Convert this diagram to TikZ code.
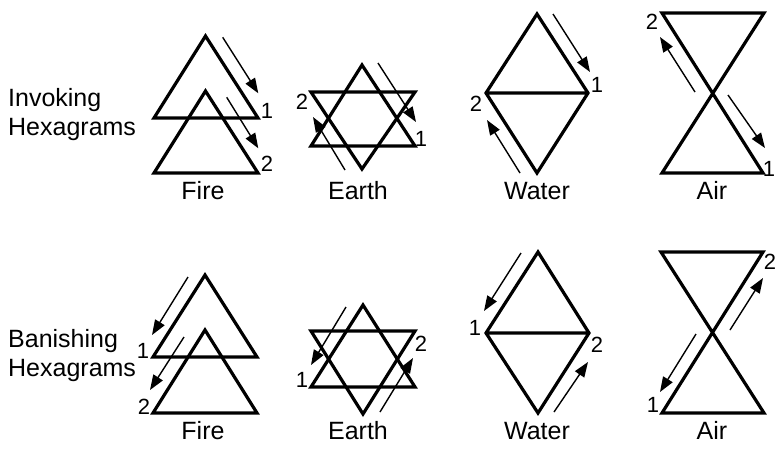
\documentclass[tikz,border=0pt]{standalone}
\usepackage{fontspec}
\setmainfont{Liberation Sans}
\usetikzlibrary{arrows.meta}
\begin{document}
\begin{tikzpicture}[x=1pt,y=-1pt,fig/.style={line width=3.2pt},dir/.style={line width=1.4pt,-{Triangle[length=15pt,width=11pt]}},num/.style={font=\fontsize{22}{22}\selectfont,inner sep=0pt},lbl/.style={font=\fontsize{25}{30}\selectfont,inner sep=0pt}]
\useasboundingbox (0,0) rectangle (777,451);
\node[lbl,anchor=base west] (inv) at (8,106) {Invoking};
\node[lbl,anchor=base west] (invh) at (8,135) {Hexagrams};
\node[lbl,anchor=base west] (ban) at (8,347) {Banishing};
\node[lbl,anchor=base west] (banh) at (8,376) {Hexagrams};
\foreach \nm/\x in {Fire/203,Earth/358,Water/537,Air/712}{
  \node[lbl,anchor=base] (top\nm) at (\x,199) {\nm};
  \node[lbl,anchor=base] (bot\nm) at (\x,439) {\nm};}
\draw[fig] (205.5,36)--(154,118)--(258,118)--cycle;
\draw[fig] (205.5,91)--(154,173)--(258,173)--cycle;
\draw[dir] (222.7,37.3)--(258.3,93.3);
\draw[dir] (226.7,97.3)--(258.3,148.3);
\node[num] (f1) at (267,111) {1};
\node[num] (f2) at (267,164) {2};
\draw[fig] (362,65)--(311,146)--(415,146)--cycle;
\draw[fig] (311,92)--(415,92)--(362,169)--cycle;
\draw[dir] (378,63)--(416,122);
\draw[dir] (345,170)--(313,117);
\node[num] (e2) at (302,102) {2};
\node[num] (e1) at (421,139) {1};
\draw[fig] (537,14)--(588,93)--(537,173)--(486,93)--cycle (486,93)--(588,93);
\draw[dir] (553,14)--(590,72);
\draw[dir] (520,173)--(487,120);
\node[num] (w1) at (597,85) {1};
\node[num] (w2) at (476,104) {2};
\draw[fig] (662,13)--(764,13)--(662,173)--(763,173)--cycle;
\draw[dir] (695,92)--(660,37);
\draw[dir] (728,95)--(765,148);
\node[num] (a2) at (652,22) {2};
\node[num] (a1) at (769,169) {1};
\draw[fig] (205,275)--(153,357)--(257,357)--cycle;
\draw[fig] (205,330)--(153,413)--(257,413)--cycle;
\draw[dir] (188,277)--(152,335);
\draw[dir] (184,337)--(150,390);
\node[num] (bf1) at (143,351) {1};
\node[num] (bf2) at (144,407) {2};
\draw[fig] (363,305)--(311,387)--(415,387)--cycle;
\draw[fig] (311,331)--(415,331)--(363,414)--cycle;
\draw[dir] (346,307)--(311,365);
\draw[dir] (380,412)--(413,358);
\node[num] (be1) at (302,380) {1};
\node[num] (be2) at (421,344) {2};
\draw[fig] (538,252)--(589,333)--(538,413)--(486,333)--cycle (486,333)--(589,333);
\draw[dir] (521,253)--(484,311);
\draw[dir] (554,412)--(588,362);
\node[num] (bw1) at (475,328) {1};
\node[num] (bw2) at (597,345) {2};
\draw[fig] (661,252)--(763,252)--(662,413)--(764,413)--cycle;
\draw[dir] (730,330)--(763,278);
\draw[dir] (696,334)--(660,392);
\node[num] (ba2) at (770,262) {2};
\node[num] (ba1) at (653,405) {1};
\end{tikzpicture}
\end{document}
